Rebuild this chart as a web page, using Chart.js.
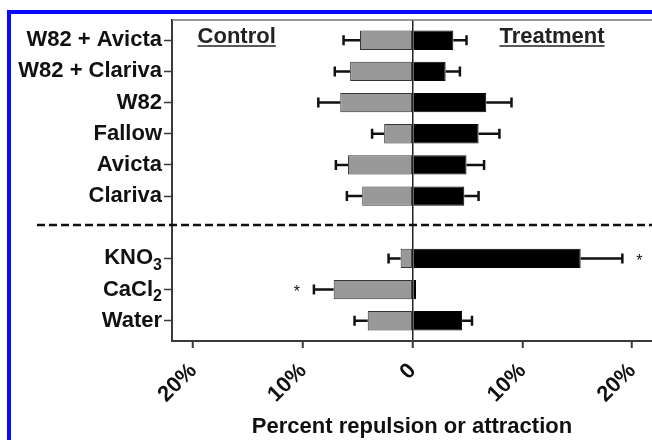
<!DOCTYPE html>
<html>
<head>
<meta charset="utf-8">
<script src="https://cdn.jsdelivr.net/npm/chart.js@4.4.0/dist/chart.umd.min.js"></script>
<style>
  body { margin: 0; background: #fff; }
  #wrap { position: relative; width: 652px; height: 440px; overflow: hidden; }
  #frame { position: absolute; left: 7px; top: 10px; width: 700px; height: 500px;
           border-left: 4px solid #0a0aff; border-top: 4px solid #0a0aff; }
  canvas { position: absolute; left: 0; top: 0; }
</style>
</head>
<body>
<div id="wrap">
  <div id="frame"></div>
  <canvas id="chart" width="652" height="440"></canvas>
</div>
<script>
// categories, top to bottom ('' = the gap under the dashed divider)
const categories = ['W82 + Avicta', 'W82 + Clariva', 'W82', 'Fallow', 'Avicta', 'Clariva', '', 'KNO\u2083', 'CaCl\u2082', 'Water'];
const controlValues = [-4.8, -5.7, -6.6, -2.6, -5.9, -4.6, null, -1.1, -7.2, -4.1];
const controlErr = [1.5, 1.4, 2.0, 1.1, 1.1, 1.4, null, 1.1, 1.8, 1.2];
const treatmentValues = [3.7, 3.0, 6.7, 6.0, 4.9, 4.7, null, 15.3, 0.3, 4.5];
const treatmentErr = [1.2, 1.3, 2.3, 1.9, 1.6, 1.3, null, 3.8, 0, 0.9];
const controlSig = ['', '', '', '', '', '', '', '', '*', ''];
const treatmentSig = ['', '', '', '', '', '', '', '*', '', ''];
const xTicks = [-20, -10, 0, 10, 20];

const FONT = "'Liberation Sans', Arial, sans-serif";
const AXIS = '#3a3a3a';
const SUB = /^(.*?)([\u2080-\u2089]+)$/;

const toPoints = vals => vals.map((v, i) => ({ x: v, y: i })).filter(p => p.x !== null);

// error bars + significance stars
const errorBars = {
    id: 'errorBars',
    afterDatasetsDraw(chart) {
        const { ctx, scales: { x, y } } = chart;
        const sets = [[controlValues, controlErr, controlSig, -1], [treatmentValues, treatmentErr, treatmentSig, 1]];
        ctx.save();
        ctx.strokeStyle = '#111';
        ctx.fillStyle = '#111';
        ctx.lineWidth = 2.5;
        sets.forEach(([vals, errs, sig, dir]) => {
            vals.forEach((v, i) => {
                if (v === null) return;
                const py = y.getPixelForValue(i);
                const x0 = x.getPixelForValue(v);
                const x1 = x.getPixelForValue(v + dir * errs[i]);
                if (errs[i] > 0) {
                    ctx.beginPath();
                    ctx.moveTo(x0, py);
                    ctx.lineTo(x1, py);
                    ctx.moveTo(x1, py - 5);
                    ctx.lineTo(x1, py + 5);
                    ctx.stroke();
                }
                if (sig[i]) {
                    ctx.font = '16px ' + FONT;
                    ctx.textAlign = 'center';
                    ctx.textBaseline = 'middle';
                    ctx.fillText(sig[i], x1 + dir * 17, py + 3);
                }
            });
        });
        ctx.restore();
    }
};

// frame top, dashed divider, group headers, subscript labels
const decorations = {
    id: 'decorations',
    afterDraw(chart) {
        const { ctx, chartArea: a, scales: { x, y } } = chart;
        ctx.save();
        ctx.strokeStyle = '#777';
        ctx.lineWidth = 1.5;
        ctx.beginPath();
        ctx.moveTo(a.left, a.top);
        ctx.lineTo(chart.width, a.top);
        ctx.stroke();

        const gy = y.getPixelForValue(categories.indexOf('') - 0.07);
        ctx.strokeStyle = '#111';
        ctx.lineWidth = 2.5;
        ctx.setLineDash([8, 4]);
        ctx.beginPath();
        ctx.moveTo(37, gy);
        ctx.lineTo(chart.width, gy);
        ctx.stroke();
        ctx.setLineDash([]);

        ctx.font = 'bold 22px ' + FONT;
        ctx.fillStyle = '#222';
        ctx.textBaseline = 'alphabetic';
        ctx.textAlign = 'left';
        ctx.lineWidth = 1.5;
        ctx.strokeStyle = '#222';
        [['Control', x.getPixelForValue(-19.6)], ['Treatment', x.getPixelForValue(7.9)]].forEach(([t, tx]) => {
            const ty = a.top + 23;
            ctx.fillText(t, tx, ty);
            const w = ctx.measureText(t).width;
            ctx.beginPath();
            ctx.moveTo(tx, ty + 3);
            ctx.lineTo(tx + w, ty + 3);
            ctx.stroke();
        });

        // chemical formula labels with real-size subscripts
        ctx.fillStyle = '#111';
        ctx.textAlign = 'right';
        ctx.textBaseline = 'middle';
        const xr = y.right - 10;
        categories.forEach((c, i) => {
            const m = c.match(SUB);
            if (!m) return;
            const sub = m[2].split('').map(ch => String.fromCharCode(ch.charCodeAt(0) - 0x2050)).join('');
            const py = y.getPixelForValue(i);
            ctx.font = 'bold 16px ' + FONT;
            const sw = ctx.measureText(sub).width;
            ctx.fillText(sub, xr, py + 7);
            ctx.font = 'bold 22px ' + FONT;
            ctx.fillText(m[1], xr - sw, py);
        });
        ctx.restore();
    }
};

new Chart(document.getElementById('chart'), {
    type: 'bar',
    data: {
        datasets: [{
            label: 'Control',
            data: toPoints(controlValues),
            backgroundColor: '#999999',
            borderColor: '#333',
            borderWidth: 1,
            borderSkipped: false
        }, {
            label: 'Treatment',
            data: toPoints(treatmentValues),
            backgroundColor: '#000',
            borderColor: '#000',
            borderWidth: 1
        }]
    },
    options: {
        indexAxis: 'y',
        responsive: false,
        animation: false,
        categoryPercentage: 1,
        barPercentage: 0.62,
        layout: { padding: { top: 20, right: 0, left: 0, bottom: 0 } },
        plugins: {
            legend: { display: false },
            tooltip: { enabled: false }
        },
        scales: {
            x: {
                type: 'linear',
                stacked: true,
                min: -21.93,
                max: 21.8,
                afterBuildTicks: scale => { scale.ticks = xTicks.map(v => ({ value: v })); },
                afterFit: scale => {
                    scale.height = 99;
                    scale.paddingLeft = 0;
                    scale.paddingRight = 0;
                },
                border: { color: AXIS, width: 2 },
                grid: {
                    color: c => (c.tick && c.tick.value === 0 ? '#222' : 'transparent'),
                    lineWidth: 1.5,
                    tickColor: AXIS,
                    tickLength: 7,
                    tickWidth: 2
                },
                ticks: {
                    minRotation: 45,
                    maxRotation: 45,
                    padding: 10,
                    color: '#111',
                    font: { family: FONT, size: 22, weight: 'bold' },
                    callback: v => (v === 0 ? '0' : Math.abs(v) + '%')
                },
                title: {
                    display: true,
                    text: 'Percent repulsion or attraction',
                    color: '#111',
                    font: { family: FONT, size: 22, weight: 'bold' },
                    padding: { top: 0, bottom: 0 }
                }
            },
            y: {
                type: 'linear',
                reverse: true,
                stacked: true,
                offset: false,
                min: -0.65,
                max: 9.65,
                afterBuildTicks: scale => {
                    scale.ticks = categories.map((c, i) => ({ value: i, c })).filter(t => t.c !== '').map(t => ({ value: t.value }));
                },
                afterFit: scale => { scale.width = 172; },
                border: { color: AXIS, width: 2 },
                grid: {
                    offset: false,
                    drawOnChartArea: false,
                    tickColor: AXIS,
                    tickLength: 8,
                    tickWidth: 1.5
                },
                ticks: {
                    padding: 2,
                    color: '#111',
                    font: { family: FONT, size: 22, weight: 'bold' },
                    callback: v => (SUB.test(categories[v]) ? '' : categories[v])
                }
            }
        }
    },
    plugins: [errorBars, decorations]
});
</script>
</body>
</html>
